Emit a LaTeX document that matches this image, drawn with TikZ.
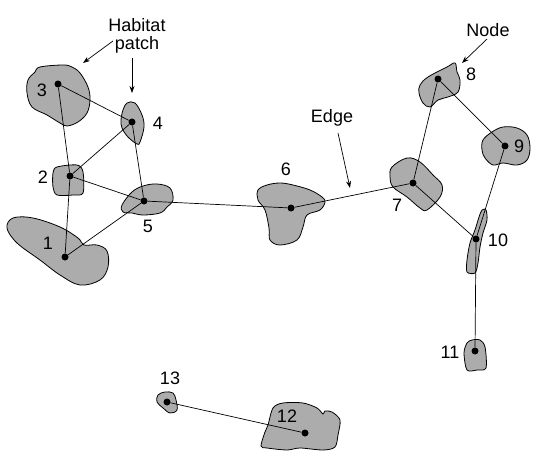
\documentclass[tikz,border=0pt]{standalone}
\usepackage{fontspec}
\setmainfont{Liberation Sans}
\usepackage{tikz}
\usetikzlibrary{arrows.meta}

\tikzset{
  patch/.style={draw=black, fill=gray!65, line width=0.8pt},
  dot/.style={circle, fill=black, inner sep=0pt, minimum size=7pt},
  lbl/.style={font=\fontsize{18}{18}\selectfont, inner sep=0pt},
  edge/.style={line width=0.7pt},
  pointer/.style={line width=0.7pt, -{Stealth[length=7pt, width=5pt]}}
}

\begin{document}
\begin{tikzpicture}[x=1pt, y=-1pt]
                \useasboundingbox (0,0) rectangle (556,457);
                \draw[patch] plot[smooth cycle, tension=0.6] coordinates {(7,228) (13,218) (33,218) (60,227) (78,238) (84,245) (97,245) (107,251) (108,267) (100,280) (80,285) (60,275) (40,260) (17,243)};
                \draw[patch] plot[smooth cycle, tension=0.5] coordinates {(57,167) (77,165) (83,172) (83,193) (73,195) (57,195) (53,187) (53,173)};
                \draw[patch] plot[smooth cycle, tension=0.6] coordinates {(40,67) (63,65) (72,67) (80,73) (88,87) (90,100) (87,113) (78,122) (67,126) (60,123) (47,115) (32,107) (27,93) (28,80) (35,72)};
                \draw[patch] plot[smooth cycle, tension=0.6] coordinates {(127,103) (135,103) (142,115) (144,127) (140,142) (137,144) (128,137) (122,128) (121,120) (123,110)};
                \draw[patch] plot[smooth cycle, tension=0.6] coordinates {(122,205) (132,192) (143,186) (157,184) (170,188) (173,200) (167,207) (160,213) (143,215) (132,213) (123,212)};
                \draw[patch] plot[smooth cycle, tension=0.6] coordinates {(258,190) (267,185) (280,183) (293,185) (310,190) (322,197) (325,202) (320,210) (307,215) (303,227) (297,240) (280,245) (270,240) (269,228) (265,210) (258,200)};
                \draw[patch] plot[smooth cycle, tension=0.6] coordinates {(392,167) (407,158) (420,162) (433,175) (442,185) (440,197) (427,210) (420,208) (407,197) (393,187) (390,177)};
                \draw[patch] plot[smooth cycle, tension=0.6] coordinates {(420,85) (428,77) (447,67) (455,63) (457,72) (460,80) (458,92) (448,97) (438,100) (430,107) (423,103) (419,93)};
                \draw[patch] plot[smooth cycle, tension=0.6] coordinates {(483,140) (492,132) (503,127) (517,128) (527,135) (530,148) (527,160) (517,165) (503,163) (493,165) (485,158) (482,150)};
                \draw[patch] plot[smooth cycle, tension=0.5] coordinates {(482,210) (486,210) (487,220) (483,233) (480,247) (478,263) (475,273) (467,272) (467,260) (470,243) (475,230) (479,217)};
                \draw[patch] plot[smooth cycle, tension=0.5] coordinates {(467,343) (472,340) (480,340) (485,347) (486,368) (477,370) (467,370) (464,353)};
                \draw[patch] plot[smooth cycle, tension=0.5] coordinates {(261,446) (265,432) (268,425) (273,408) (283,403) (303,403) (317,408) (323,414) (325,411) (332,412) (340,420) (338,435) (335,447) (323,450) (300,448) (287,450) (267,448)};
                \draw[patch] plot[smooth cycle, tension=0.6] coordinates {(158,395) (165,392) (173,393) (176,400) (177,410) (170,413) (163,408) (157,402)};

                \node[dot] (n1) at (65,257) {};
                \node[dot] (n2) at (70,176) {};
                \node[dot] (n3) at (58,84) {};
                \node[dot] (n4) at (132,122) {};
                \node[dot] (n5) at (144,201) {};
                \node[dot] (n6) at (291,208) {};
                \node[dot] (n7) at (413,183) {};
                \node[dot] (n8) at (438,79) {};
                \node[dot] (n9) at (505,146) {};
                \node[dot] (n10) at (476,239) {};
                \node[dot] (n11) at (475,351) {};
                \node[dot] (n12) at (305,433) {};
                \node[dot] (n13) at (167,402) {};

                \draw[edge] (n3) -- (n2) -- (n1) -- (n5) -- (n6) -- (n7) -- (n8) -- (n9) -- (n10) -- (n11);
                \draw[edge] (n3) -- (n4) -- (n2) -- (n5) -- (n4);
                \draw[edge] (n7) -- (n10);
                \draw[edge] (n13) -- (n12);

                \node[lbl] (l1) at (48,243) {1};
                \node[lbl] (l2) at (43,177) {2};
                \node[lbl] (l3) at (42,90) {3};
                \node[lbl] (l4) at (158,123) {4};
                \node[lbl] (l5) at (148,226) {5};
                \node[lbl] (l6) at (286,169) {6};
                \node[lbl] (l7) at (397,205) {7};
                \node[lbl] (l8) at (471,74) {8};
                \node[lbl] (l9) at (519,146) {9};
                \node[lbl] (l10) at (498,240) {10};
                \node[lbl] (l11) at (450,352) {11};
                \node[lbl] (l12) at (287,416) {12};
                \node[lbl] (l13) at (170,378) {13};

                \node[lbl, align=center] (habitat) at (137,36) {Habitat\\patch};
                \node[lbl] (nodetxt) at (488,30) {Node};
                \node[lbl] (edgetxt) at (332,118) {Edge};
                \coordinate (hA) at (113,41);
                \coordinate (hB) at (132,58);
                \coordinate (nA) at (487,39);
                \coordinate (eA) at (338,133);
                \draw[pointer] (hA) -- (83,63);
                \draw[pointer] (hB) -- (132,93);
                \draw[pointer] (nA) -- (462,63);
                \draw[pointer] (eA) -- (350,188);
            \end{tikzpicture}
\end{document}
